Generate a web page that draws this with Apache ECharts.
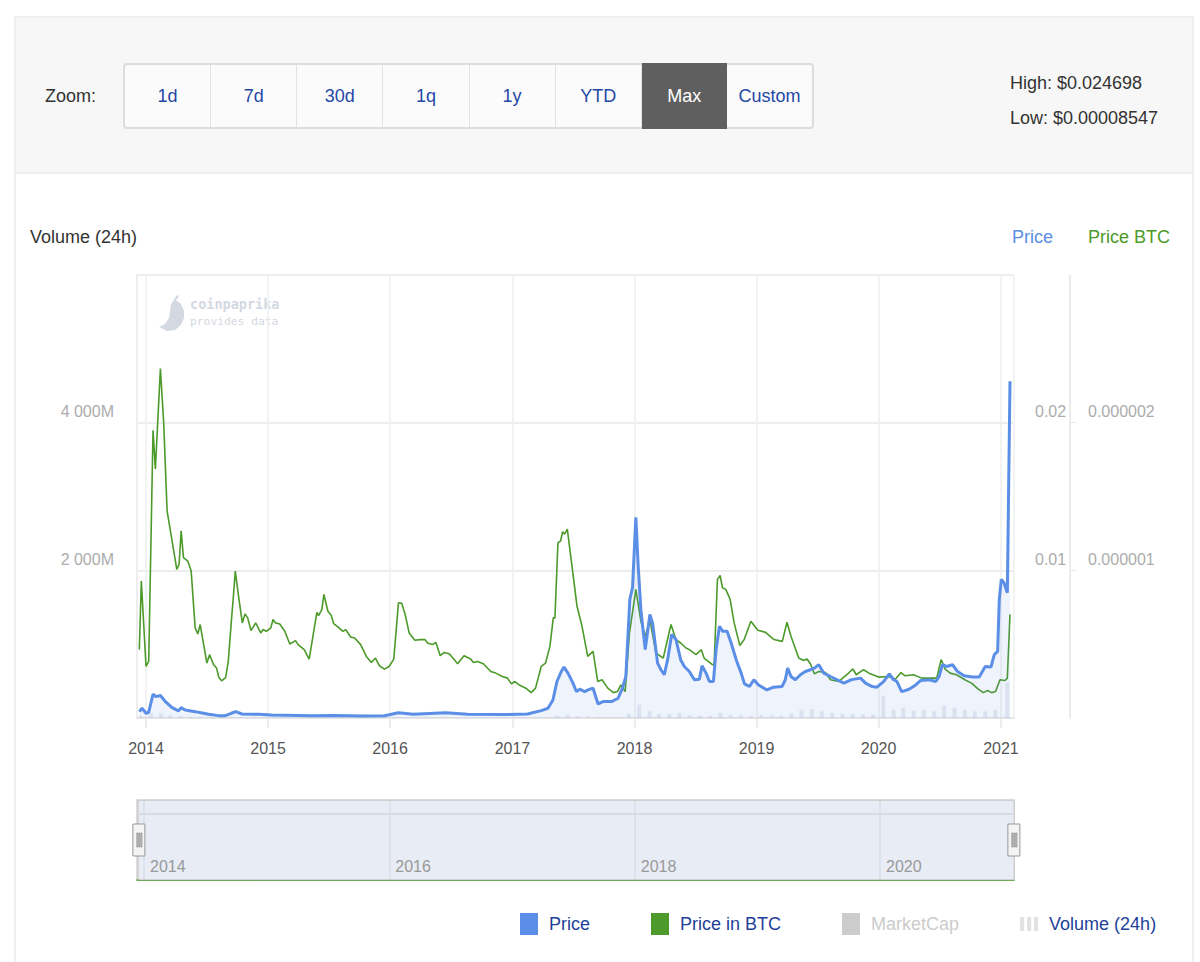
<!DOCTYPE html>
<html>
<head>
<meta charset="utf-8">
<script src="https://cdn.jsdelivr.net/npm/echarts@6/dist/echarts.min.js"></script>
<style>
  html, body { margin:0; padding:0; background:#fff; }
  body { width:1200px; height:962px; overflow:hidden; position:relative; font-family:'Liberation Sans', Arial, sans-serif; }
  #frame { position:absolute; left:14px; top:16px; width:1180px; height:950px; border-left:2px solid #efefef; border-right:2px solid #efefef; border-top:2px solid #efefef; box-sizing:border-box; }
  #panel { position:absolute; left:16px; top:18px; width:1176px; height:156px; background:#f7f7f7; border-bottom:2px solid #eeeeee; box-sizing:border-box; }
  #zoomLbl { position:absolute; left:45px; top:86px; font-size:18px; color:#333; z-index:2; }
  #btns { position:absolute; left:123px; top:63px; width:691px; height:66px; border:2px solid #dcdcdc; border-radius:4px; box-sizing:border-box; display:flex; background:#fbfbfb; z-index:2; }
  #btns div { flex:1; display:flex; align-items:center; justify-content:center; color:#2547a5; font-size:18px; border-right:1px solid #e2e2e2; }
  #btns div:last-child { border-right:none; }
  #btns div.active { background:#5f5f5f; color:#fff; margin:-2px 0; border-right:none; }
  #hl { position:absolute; left:1010px; top:66px; font-size:18px; color:#333; line-height:35px; z-index:2; }
  #chart { position:absolute; left:0; top:0; width:1200px; height:962px; z-index:1; }
</style>
</head>
<body>
<div id="frame"></div>
<div id="panel"></div>
<div id="zoomLbl">Zoom:</div>
<div id="btns"><div>1d</div><div>7d</div><div>30d</div><div>1q</div><div>1y</div><div>YTD</div><div class="active">Max</div><div>Custom</div></div>
<div id="hl">High: $0.024698<br>Low: $0.00008547</div>
<div id="chart"></div>
<script>
// ---- data ----
const priceUsd = [
['2013-12-12',0.00043],['2013-12-20',0.00066],['2014-01-01',0.00032],['2014-01-09',0.00039],
['2014-01-22',0.00161],['2014-01-31',0.00145],['2014-02-13',0.00152],['2014-02-28',0.00111],
['2014-03-20',0.0007],['2014-04-08',0.00048],['2014-04-16',0.0007],['2014-04-28',0.00054],
['2014-05-28',0.00043],['2014-06-22',0.00032],['2014-07-07',0.00025],['2014-08-06',0.00016],
['2014-08-26',0.00016],['2014-09-13',0.00032],['2014-09-26',0.00043],['2014-10-15',0.00027],
['2014-12-04',0.00025],['2015-01-11',0.0002],['2015-05-12',0.00016],['2015-07-15',0.00017],
['2015-10-15',0.00014],['2015-12-15',0.00015],['2016-01-26',0.00036],['2016-03-10',0.00025],
['2016-06-15',0.00036],['2016-08-20',0.00025],['2016-12-15',0.00023],['2017-02-15',0.00027],
['2017-03-28',0.0005],['2017-04-17',0.00066],['2017-05-02',0.00122],['2017-05-14',0.00247],
['2017-05-27',0.00315],['2017-06-04',0.00345],['2017-06-16',0.00304],['2017-07-01',0.00236],
['2017-07-11',0.00179],['2017-07-21',0.00195],['2017-08-05',0.00179],['2017-08-15',0.0019],
['2017-08-30',0.00202],['2017-09-14',0.00095],['2017-09-29',0.00111],['2017-10-24',0.00111],
['2017-11-13',0.00134],['2017-11-26',0.00202],['2017-12-06',0.00281],['2017-12-18',0.00803],
['2017-12-26',0.00882],['2018-01-05',0.01359],['2018-01-12',0.01029],['2018-01-20',0.00735],
['2018-02-02',0.00463],['2018-02-16',0.00701],['2018-02-24',0.00644],['2018-03-11',0.00372],
['2018-03-21',0.00327],['2018-03-31',0.00293],['2018-04-10',0.00395],['2018-04-22',0.00565],
['2018-05-05',0.00531],['2018-05-19',0.00395],['2018-05-30',0.00349],['2018-06-14',0.00315],
['2018-06-29',0.00259],['2018-07-14',0.00263],['2018-07-22',0.00354],['2018-08-03',0.00304],
['2018-08-13',0.00247],['2018-08-25',0.00247],['2018-09-02',0.00463],['2018-09-12',0.00621],
['2018-09-22',0.00587],['2018-10-05',0.00587],['2018-10-17',0.00508],['2018-11-01',0.00395],
['2018-11-16',0.00304],['2018-11-26',0.00231],['2018-12-11',0.00213],['2018-12-24',0.00259],
['2019-01-07',0.00224],['2019-02-01',0.0019],['2019-02-21',0.00209],['2019-03-18',0.00213],
['2019-03-28',0.00259],['2019-04-04',0.00338],['2019-04-14',0.00281],['2019-04-27',0.00259],
['2019-05-12',0.00293],['2019-05-27',0.00315],['2019-06-11',0.00327],['2019-06-23',0.00338],
['2019-07-06',0.00361],['2019-07-21',0.00304],['2019-08-10',0.00281],['2019-08-30',0.00259],
['2019-09-19',0.00236],['2019-10-12',0.0026],['2019-11-08',0.0027],['2019-11-23',0.00236],
['2019-12-13',0.00213],['2019-12-27',0.00209],['2020-01-16',0.00247],['2020-02-02',0.00299],
['2020-02-15',0.00259],['2020-02-25',0.00247],['2020-03-10',0.00179],['2020-04-01',0.00195],
['2020-04-21',0.00224],['2020-05-06',0.00254],['2020-05-31',0.00259],['2020-06-20',0.00247],
['2020-06-30',0.00281],['2020-07-10',0.00361],['2020-07-22',0.00349],['2020-08-09',0.00361],
['2020-08-24',0.00315],['2020-09-13',0.00286],['2020-10-08',0.00277],['2020-10-28',0.00277],
['2020-11-15',0.00349],['2020-12-02',0.00345],['2020-12-12',0.00429],['2020-12-22',0.00451],
['2020-12-27',0.00803],['2021-01-02',0.00939],['2021-01-10',0.00916],['2021-01-20',0.00848],
['2021-01-28',0.0228]
];
const priceBtc = [
['2013-12-12',4.63e-7],['2013-12-18',9.27e-7],['2014-01-01',3.49e-7],['2014-01-09',3.83e-7],
['2014-01-22',1.948e-6],['2014-01-29',1.687e-6],['2014-02-13',2.367e-6],['2014-02-23',1.993e-6],
['2014-03-05',1.403e-6],['2014-04-03',1.007e-6],['2014-04-10',1.041e-6],['2014-04-16',1.267e-6],
['2014-04-23',1.086e-6],['2014-05-06',1.063e-6],['2014-05-16',9.95e-7],['2014-05-28',6.1e-7],
['2014-06-05',5.69e-7],['2014-06-12',6.33e-7],['2014-07-02',3.72e-7],['2014-07-10',4.29e-7],
['2014-07-22',3.61e-7],['2014-07-31',3.38e-7],['2014-08-07',2.74e-7],['2014-08-15',2.52e-7],
['2014-08-27',2.74e-7],['2014-09-04',3.83e-7],['2014-09-14',6.78e-7],['2014-09-19',8.14e-7],
['2014-09-25',9.95e-7],['2014-10-04',8.37e-7],['2014-10-16',6.44e-7],['2014-10-24',7.05e-7],
['2014-11-01',6.78e-7],['2014-11-11',5.92e-7],['2014-11-25',6.44e-7],['2014-12-10',5.76e-7],
['2014-12-17',5.99e-7],['2014-12-27',5.87e-7],['2015-01-09',6.1e-7],['2015-01-16',6.67e-7],
['2015-01-23',6.44e-7],['2015-02-05',6.37e-7],['2015-02-20',5.87e-7],['2015-03-07',5.01e-7],
['2015-03-24',5.24e-7],['2015-04-01',4.97e-7],['2015-04-19',4.63e-7],['2015-05-04',3.99e-7],
['2015-05-27',7.16e-7],['2015-06-01',6.94e-7],['2015-06-11',7.35e-7],['2015-06-17',8.37e-7],
['2015-06-29',7.23e-7],['2015-07-09',6.94e-7],['2015-07-16',6.39e-7],['2015-07-27',6.21e-7],
['2015-08-13',5.87e-7],['2015-08-21',5.99e-7],['2015-09-05',5.49e-7],['2015-09-17',5.42e-7],
['2015-10-05',4.97e-7],['2015-10-22',4.17e-7],['2015-11-06',3.76e-7],['2015-11-18',4.06e-7],
['2015-11-30',3.54e-7],['2015-12-15',3.31e-7],['2015-12-29',3.49e-7],['2016-01-12',3.99e-7],
['2016-01-26',7.8e-7],['2016-02-05',7.76e-7],['2016-02-15',7.01e-7],['2016-02-27',5.76e-7],
['2016-03-15',5.26e-7],['2016-03-31',5.31e-7],['2016-04-14',5.31e-7],['2016-04-22',5.08e-7],
['2016-05-07',4.97e-7],['2016-05-17',5.12e-7],['2016-05-30',4.22e-7],['2016-06-11',4.44e-7],
['2016-06-26',4.35e-7],['2016-07-21',3.67e-7],['2016-08-09',4.22e-7],['2016-08-29',3.99e-7],
['2016-09-06',3.76e-7],['2016-09-18',3.83e-7],['2016-10-06',3.67e-7],['2016-10-28',3.15e-7],
['2016-11-12',3.04e-7],['2016-12-02',2.81e-7],['2016-12-17',2.7e-7],['2016-12-29',2.31e-7],
['2017-01-08',2.47e-7],['2017-01-21',2.24e-7],['2017-02-10',2.02e-7],['2017-02-26',1.72e-7],
['2017-03-11',2.02e-7],['2017-03-28',3.49e-7],['2017-04-10',3.72e-7],['2017-04-23',4.85e-7],
['2017-05-03',6.78e-7],['2017-05-08',6.78e-7],['2017-05-17',1.188e-6],['2017-05-25',1.199e-6],
['2017-05-31',1.261e-6],['2017-06-06',1.245e-6],['2017-06-14',1.279e-6],['2017-06-28',1.029e-6],
['2017-07-13',7.57e-7],['2017-07-28',6.21e-7],['2017-08-14',4.17e-7],['2017-08-30',4.51e-7],
['2017-09-13',2.47e-7],['2017-09-26',2.59e-7],['2017-10-13',2.02e-7],['2017-10-30',1.72e-7],
['2017-11-11',1.79e-7],['2017-11-21',2.24e-7],['2017-12-04',1.79e-7],['2017-12-17',5.76e-7],
['2018-01-05',8.71e-7],['2018-01-20',6.55e-7],['2018-02-02',5.53e-7],['2018-02-16',6.67e-7],
['2018-03-06',4.4e-7],['2018-03-28',4.06e-7],['2018-04-20',6.33e-7],['2018-05-05',5.31e-7],
['2018-05-19',5.08e-7],['2018-06-04',4.74e-7],['2018-06-14',4.63e-7],['2018-07-04',4.29e-7],
['2018-07-20',4.63e-7],['2018-07-28',4.06e-7],['2018-08-22',3.61e-7],['2018-08-27',3.61e-7],
['2018-09-06',9.39e-7],['2018-09-14',9.66e-7],['2018-09-21',8.82e-7],['2018-10-01',8.71e-7],
['2018-10-14',8.03e-7],['2018-10-26',6.44e-7],['2018-11-12',4.9e-7],['2018-11-25',5.31e-7],
['2018-12-15',6.55e-7],['2019-01-05',5.94e-7],['2019-01-28',5.8e-7],['2019-02-22',5.31e-7],
['2019-03-19',5.19e-7],['2019-04-02',6.48e-7],['2019-04-14',5.53e-7],['2019-05-07',4.06e-7],
['2019-05-22',3.9e-7],['2019-06-01',3.99e-7],['2019-06-11',3.67e-7],['2019-06-23',2.99e-7],
['2019-07-06',3.15e-7],['2019-07-26',3.08e-7],['2019-08-10',2.59e-7],['2019-09-04',2.47e-7],
['2019-09-19',2.77e-7],['2019-09-28',2.93e-7],['2019-10-16',3.33e-7],['2019-10-26',2.93e-7],
['2019-11-17',3.27e-7],['2019-12-07',2.99e-7],['2020-01-01',2.77e-7],['2020-01-31',2.81e-7],
['2020-02-20',2.63e-7],['2020-03-08',3.08e-7],['2020-03-20',2.86e-7],['2020-04-14',2.93e-7],
['2020-05-09',2.7e-7],['2020-06-03',2.7e-7],['2020-06-23',2.7e-7],['2020-07-06',3.95e-7],
['2020-07-18',3.31e-7],['2020-08-02',3.04e-7],['2020-08-21',2.93e-7],['2020-09-15',2.59e-7],
['2020-10-05',2.36e-7],['2020-10-25',1.95e-7],['2020-11-09',1.72e-7],['2020-11-22',1.86e-7],
['2020-12-04',1.72e-7],['2020-12-16',1.79e-7],['2020-12-29',2.59e-7],['2021-01-13',2.54e-7],
['2021-01-20',2.7e-7],['2021-01-28',7.01e-7]
];
// Volume (24h), millions USD, one value per month
const volumeMonths = [
'2013-12-15','2014-01-15','2014-02-15','2014-03-15','2014-04-15','2014-05-15','2014-06-15','2014-07-15','2014-08-15','2014-09-15','2014-10-15','2014-11-15','2014-12-15',
'2015-01-15','2015-02-15','2015-03-15','2015-04-15','2015-05-15','2015-06-15','2015-07-15','2015-08-15','2015-09-15','2015-10-15','2015-11-15','2015-12-15',
'2016-01-15','2016-02-15','2016-03-15','2016-04-15','2016-05-15','2016-06-15','2016-07-15','2016-08-15','2016-09-15','2016-10-15','2016-11-15','2016-12-15',
'2017-01-15','2017-02-15','2017-03-15','2017-04-15','2017-05-15','2017-06-15','2017-07-15','2017-08-15','2017-09-15','2017-10-15','2017-11-15','2017-12-15',
'2018-01-15','2018-02-15','2018-03-15','2018-04-15','2018-05-15','2018-06-15','2018-07-15','2018-08-15','2018-09-15','2018-10-15','2018-11-15','2018-12-15',
'2019-01-15','2019-02-15','2019-03-15','2019-04-15','2019-05-15','2019-06-15','2019-07-15','2019-08-15','2019-09-15','2019-10-15','2019-11-15','2019-12-15',
'2020-01-15','2020-02-15','2020-03-15','2020-04-15','2020-05-15','2020-06-15','2020-07-15','2020-08-15','2020-09-15','2020-10-15','2020-11-15','2020-12-15',
'2021-01-20'
];
const volumeValues = [
30,70,60,35,25,15,10,8,6,12,8,6,5,
5,4,3,3,4,4,5,3,3,2,2,3,
6,5,4,3,3,6,3,3,2,2,2,2,
2,2,3,6,30,45,25,20,12,10,15,60,
180,90,60,55,70,40,30,30,70,40,35,30,
40,35,30,60,110,120,90,70,60,55,50,45,
300,110,140,100,110,90,170,140,110,90,90,110,
480
];
const marketCap = [];
const volumeTicks = [0, 2000, 4000, 6000];
const xRange = ['2013-12-11', '2021-02-03'];

const YEAR = 365 * 24 * 3600 * 1000;
const fmtVol = v => (v === 0 || v === 6000) ? '' : String(v).replace(/\B(?=(\d{3})+(?!\d))/g, ' ') + 'M';
const fmtEvenYear = v => { const y = new Date(v).getFullYear(); return y % 2 === 0 ? String(y) : ''; };

const chart = echarts.init(document.getElementById('chart'), null, { renderer: 'svg' });
const lblY = { fontSize:16, color:'#acacac', verticalAlign:'bottom', lineHeight:16, padding:[0,0,3,0], showMinLabel:false, showMaxLabel:false };

chart.setOption({
  animation: false,
  textStyle: { fontFamily: 'Liberation Sans, Arial, sans-serif' },
  grid: [
    { left:137, right:186, top:275, bottom:244 },
    { left:137, right:186, top:800, height:80, show:true, backgroundColor:'#e8ecf5', borderColor:'#cfcfcf', borderWidth:1.5 }
  ],
  xAxis: [
    { type:'time', gridIndex:0, min:xRange[0], max:xRange[1], minInterval:YEAR, maxInterval:YEAR*1.003,
      axisLine:{ show:true, lineStyle:{ color:'#e6e6e6', width:2 } },
      axisTick:{ show:true, length:10, lineStyle:{ color:'#e6e6e6', width:1.5 } },
      splitLine:{ show:true, lineStyle:{ color:'#efefef', width:1.5 } },
      axisLabel:{ formatter:'{yyyy}', fontSize:16, color:'#555', margin:22, showMinLabel:false, showMaxLabel:false, verticalAlign:'top' } },
    { type:'time', gridIndex:1, min:xRange[0], max:xRange[1], minInterval:YEAR, maxInterval:YEAR*1.003,
      axisLine:{ show:true, lineStyle:{ color:'#4c9a2a', width:1.5 } },
      axisTick:{ show:false },
      splitLine:{ show:true, lineStyle:{ color:['rgba(0,0,0,0)', '#d9dee8'], width:1.5 } },
      axisLabel:{ inside:true, formatter: fmtEvenYear, fontSize:16, color:'#999', align:'left', verticalAlign:'bottom', margin:6, padding:[0,0,0,6], showMinLabel:false, showMaxLabel:false } }
  ],
  yAxis: [
    { type:'value', gridIndex:0, min:volumeTicks[0], max:volumeTicks[3], interval:2000, position:'left',
      axisLine:{ show:true, lineStyle:{ color:'#eeeeee', width:2 } }, axisTick:{ show:false },
      splitLine:{ show:true, lineStyle:{ color:'#ededed', width:2 } },
      axisLabel:Object.assign({}, lblY, { margin:23, formatter: fmtVol }) },
    { type:'value', gridIndex:0, min:0, max:0.03, interval:0.01, position:'right',
      axisLine:{ show:false }, axisTick:{ show:false }, splitLine:{ show:false },
      axisLabel:Object.assign({}, lblY, { margin:21, formatter: v => (v===0||v>=0.03)?'':String(+v.toFixed(2)) }) },
    { type:'value', gridIndex:0, min:0, max:0.000003, interval:0.000001, position:'right', offset:56,
      axisLine:{ show:true, lineStyle:{ color:'#e6e6e6', width:1.5 } },
      axisTick:{ show:true, length:6, lineStyle:{ color:'#e6e6e6' } },
      splitLine:{ show:false },
      axisLabel:Object.assign({}, lblY, { margin:18, formatter: v => (v===0||v>=0.000003)?'':v.toFixed(6) }) },
    { type:'value', gridIndex:1, min:0, max:1, show:false }
  ],
  dataZoom: [{
    type:'slider', xAxisIndex:[0], filterMode:'none', start:0, end:100,
    left:137, right:186, top:800, height:80,
    showDetail:false, showDataShadow:false, brushSelect:false,
    backgroundColor:'rgba(0,0,0,0)', borderColor:'#cfcfcf', fillerColor:'rgba(0,0,0,0)',
    handleIcon:'path://M0,0H12V32H0Z M4,9H5V23H4Z M6,9H7V23H6Z M8,9H9V23H8Z',
    handleSize:32,
    handleStyle:{ color:'#f4f4f4', borderColor:'#999', borderWidth:1 },
    moveHandleSize:0
  }],
  legend: {
    left:515, top:908, itemWidth:18, itemHeight:22, itemGap:61, icon:'rect',
    inactiveColor:'#cccccc',
    textStyle:{ color:'#223f99', fontSize:18, padding:[0,0,0,6] },
    selected:{ 'MarketCap': false },
    data:[
      { name:'Price' },
      { name:'Price in BTC' },
      { name:'MarketCap' },
      { name:'Volume (24h)', icon:'path://M0,0H3V10H0Z M5,0H8V10H5Z M10,0H13V10H10Z', itemStyle:{ color:'#e2e2e2' } }
    ]
  },
  graphic: [
    { type:'text', left:30, top:228, style:{ text:'Volume (24h)', fontSize:18, fill:'#333' } },
    { type:'text', left:1012, top:228, style:{ text:'Price', fontSize:18, fill:'#5b8ee6' } },
    { type:'text', left:1088, top:228, style:{ text:'Price BTC', fontSize:18, fill:'#4c9a2a' } },
    { type:'text', left:190, top:297, style:{ text:'coinpaprika', fontSize:13.5, fill:'#d3d8e1', fontFamily:'DejaVu Sans Mono', fontWeight:'bold' } },
    { type:'text', left:190, top:316, style:{ text:'provides data', fontSize:11.3, fill:'#d3d8e1', fontFamily:'DejaVu Sans Mono' } },
    { type:'polygon', shape:{ points:[[176,300],[181,304],[184,311],[184,318],[181,325],[175,330],[167,331],[159,327],[165,324],[169,318],[170,311],[171,304],[174,300],[176,296],[179,295],[178,298]] }, style:{ fill:'#d3d8e1' } },
    { type:'line', shape:{ x1:138, y1:814, x2:1013, y2:814 }, style:{ stroke:'#d6dbe5', lineWidth:2 }, z:10 }
  ],
  series: [
    { name:'Volume (24h)', type:'bar', xAxisIndex:0, yAxisIndex:0, barWidth:4,
      itemStyle:{ color:'rgba(190,195,210,0.32)' },
      data: volumeMonths.map((d, i) => [d, volumeValues[i]]), z:1 },
    { name:'MarketCap', type:'line', xAxisIndex:0, yAxisIndex:0, showSymbol:false,
      itemStyle:{ color:'#cccccc' }, data: marketCap },
    { name:'Price in BTC', type:'line', xAxisIndex:0, yAxisIndex:2, showSymbol:false, smooth:false,
      itemStyle:{ color:'#4c9a2a' }, lineStyle:{ color:'#4c9a2a', width:1.6 }, data: priceBtc, z:3 },
    { name:'Price', type:'line', xAxisIndex:0, yAxisIndex:1, showSymbol:false, smooth:false,
      itemStyle:{ color:'#5b8ee6' }, lineStyle:{ color:'#5b8ee6', width:3 },
      areaStyle:{ color:'rgba(91,142,230,0.15)' }, data: priceUsd, z:4 }
  ]
});
</script>
</body>
</html>
